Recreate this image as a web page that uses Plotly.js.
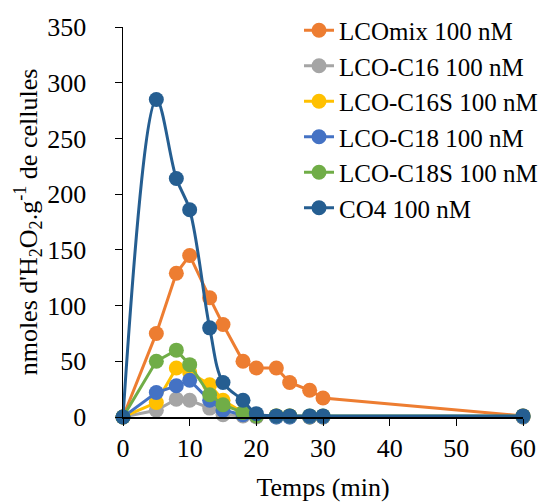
<!DOCTYPE html>
<html>
<head>
<meta charset="utf-8">
<script src="https://cdn.plot.ly/plotly-3.0.1.min.js"></script>
<style>html,body{margin:0;padding:0;background:#fff}#chart{width:556px;height:502px}</style>
</head>
<body>
<div id="chart"></div>
<script>
var times = [0, 5, 8, 10, 13, 15, 18, 20, 23, 25, 28, 30, 60];
var seriesNames = ["LCOmix 100 nM", "LCO-C16 100 nM", "LCO-C16S 100 nM", "LCO-C18 100 nM", "LCO-C18S 100 nM", "CO4 100 nM"];
var lcoMix  = [0, 75, 129, 145, 107, 83, 50, 44, 44, 31, 24, 17, 1];
var lcoC16  = [0, 6, 16, 15, 8, 2, 1, 0, 0, 0, 0, 0, 0];
var lcoC16S = [0, 13, 44, 40, 29, 15, 4, 1, 1, 1, 0, 0, 0];
var lcoC18  = [0, 22, 28, 33, 15, 6, 2, 1, 0, 0, 0, 0, 0];
var lcoC18S = [0, 50, 60, 47, 20, 11, 4, 1, 1, 1, 1, 1, 1];
var co4     = [0, 285, 214, 186, 80, 31, 15, 3, 1, 1, 1, 1, 1];
var colors = ["#ED7D31", "#A5A5A5", "#FFC000", "#4472C4", "#70AD47", "#255E91"];
var allValues = [lcoMix, lcoC16, lcoC16S, lcoC18, lcoC18S, co4];

var traces = allValues.map(function (vals, i) {
  return {
    x: times, y: vals, name: seriesNames[i], type: "scatter", mode: "lines+markers",
    line: {color: colors[i], width: 3, shape: i === 5 ? "spline" : "linear", smoothing: 1},
    marker: {color: colors[i], size: 15},
    cliponaxis: false
  };
});

var serif = "'Liberation Serif', 'Times New Roman', serif";
var layout = {
  width: 556, height: 502,
  margin: {l: 123, r: 33, t: 27, b: 85, autoexpand: false},
  paper_bgcolor: "#fff", plot_bgcolor: "#fff",
  font: {family: serif, color: "#000", size: 26},
  showlegend: true,
  legend: {x: 0.44, y: 1.05, xanchor: "left", yanchor: "top", font: {family: serif, size: 25, color: "#000"}, bgcolor: "rgba(0,0,0,0)"},
  xaxis: {
    range: [0, 60], tickvals: [0, 10, 20, 30, 40, 50, 60], showgrid: false, zeroline: false,
    showline: true, linecolor: "#000", linewidth: 1.5, ticks: "outside", tickcolor: "#000", ticklen: 7,
    tickfont: {family: serif, size: 26, color: "#000"},
    title: {text: "Temps (min)", font: {family: serif, size: 26, color: "#000"}, standoff: 16}
  },
  yaxis: {
    range: [0, 350], tickvals: [0, 50, 100, 150, 200, 250, 300, 350], showgrid: false, zeroline: false,
    showline: true, linecolor: "#000", linewidth: 1.5, ticks: "outside", tickcolor: "#000", ticklen: 7,
    ticklabelstandoff: 23,
    tickfont: {family: serif, size: 26, color: "#000"},
    title: {text: "nmoles d'H<sub>2</sub>O<sub>2</sub>.g<sup>-1</sup> de cellules", font: {family: serif, size: 26, color: "#000"}, standoff: 2}
  }
};
Plotly.newPlot("chart", traces, layout, {displayModeBar: false, staticPlot: true});
</script>
</body>
</html>
